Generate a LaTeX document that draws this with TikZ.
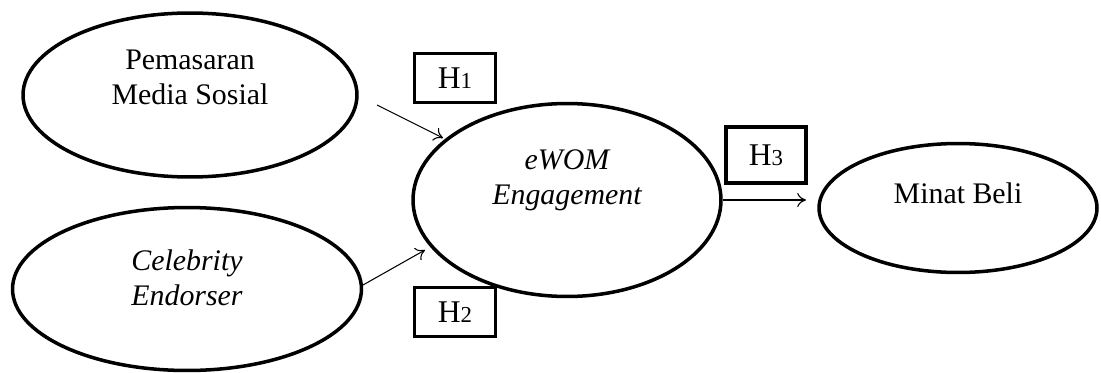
\documentclass[tikz,border=0pt]{standalone}
\usepackage{fontspec}
\setmainfont{Liberation Serif}
\usetikzlibrary{shapes.geometric,arrows.meta}
\newcommand{\hyp}[1]{H{\fontsize{13}{13}\selectfont #1}}

\begin{document}
\begin{tikzpicture}[x=0.02cm,y=-0.02cm,
	var/.style={draw, ellipse, line width=2pt, inner sep=0pt},
	lbl/.style={align=center, font=\fontsize{17}{19.8}\selectfont},
	hbox/.style={draw, line width=2.2pt, minimum width=1.62cm, minimum height=0.98cm, inner sep=0pt, font=\fontsize{18}{18}\selectfont},
	arr/.style={-{To[length=5pt,width=8pt]}, line width=0.6pt}]
	\useasboundingbox (0,0) rectangle (1101,372);

	\node[var, minimum width=6.68cm, minimum height=3.28cm] (pms) at (190,95) {};
	\node[var, minimum width=6.98cm, minimum height=3.26cm] (cel) at (187,289) {};
	\node[var, minimum width=6.16cm, minimum height=3.86cm] (ewom) at (567,200) {};
	\node[var, minimum width=5.56cm, minimum height=2.58cm] (minat) at (958,208) {};

	\node[lbl] (pmst) at (190,77) {Pemasaran\\Media Sosial};
	\node[lbl, font=\fontsize{17}{19.8}\selectfont\itshape] (celt) at (187,278) {Celebrity\\Endorser};
	\node[lbl, font=\fontsize{17}{19.8}\selectfont\itshape] (ewomt) at (567,180) {eWOM\\Engagement};
	\node[lbl] (minatt) at (958,193) {Minat Beli};

	\node[hbox] (h1) at (455,78) {\hyp{1}};
	\node[hbox] (h2) at (455,312) {\hyp{2}};
	\node[hbox, minimum width=1.6cm, minimum height=1.12cm] (h3) at (766,155) {\hyp{3}};

	\coordinate (h1s) at (377,105);
	\coordinate (h1e) at (443,138);
	\coordinate (h2s) at (363,285);
	\coordinate (h2e) at (425,250);
	\coordinate (h3e) at (806,200);

	\draw[arr] (h1s) -- (h1e);
	\draw[arr] (h2s) -- (h2e);
	\draw[arr] (ewom.east) -- (h3e);
\end{tikzpicture}
\end{document}
